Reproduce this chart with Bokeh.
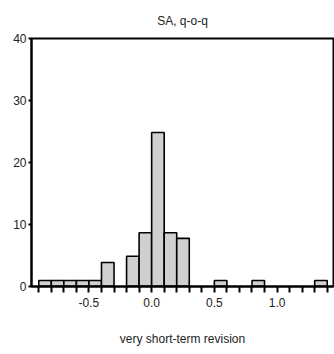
from bokeh.plotting import figure
from bokeh.models import Range1d, FixedTicker, PrintfTickFormatter
from bokeh.embed import file_html
from bokeh.resources import INLINE

# histogram data (percent frequency per 0.1-wide bin)
bin_left = [-0.9, -0.8, -0.7, -0.6, -0.5, -0.4, -0.2, -0.1, 0.0, 0.1, 0.2, 0.5, 0.8, 1.3]
bin_right = [-0.8, -0.7, -0.6, -0.5, -0.4, -0.3, -0.1, 0.0, 0.1, 0.2, 0.3, 0.6, 0.9, 1.4]
freq = [0.9, 0.9, 0.9, 0.9, 0.9, 3.8, 4.8, 8.6, 24.8, 8.6, 7.7, 0.9, 0.9, 0.9]

x_major = [-0.5, 0.0, 0.5, 1.0]
x_minor = [-0.9, -0.8, -0.7, -0.6, -0.4, -0.3, -0.2, -0.1, 0.1, 0.2, 0.3, 0.4,
           0.6, 0.7, 0.8, 0.9, 1.1, 1.2, 1.3, 1.4]
y_major = [0, 10, 20, 30, 40]

FONT = "Liberation Sans"
TXT = "#222222"

p = figure(width=334, height=354, output_backend="svg", toolbar_location=None,
           x_range=Range1d(-0.958, 1.45), y_range=Range1d(-0.08, 40.0),
           min_border_left=31, min_border_right=1, min_border_top=37,
           min_border_bottom=68, title="SA, q-o-q")

p.title.align = "center"
p.title.text_font = FONT
p.title.text_font_size = "12px"
p.title.text_font_style = "normal"
p.title.text_color = TXT
p.title.standoff = 22

p.quad(left=bin_left, right=bin_right, bottom=0, top=freq,
       fill_color="#d0d0d0", line_color="black", line_width=1.6)

p.grid.visible = False
p.background_fill_color = "white"
p.border_fill_color = "white"
p.outline_line_color = "black"
p.outline_line_width = 2

xa = p.xaxis[0]
xa.ticker = FixedTicker(ticks=x_major, minor_ticks=x_minor)
xa.formatter = PrintfTickFormatter(format="%.1f")
xa.axis_line_width = 2
xa.axis_line_color = "black"
xa.major_tick_out = 6
xa.major_tick_in = 0
xa.minor_tick_out = 6
xa.minor_tick_in = 0
xa.major_tick_line_width = 2
xa.minor_tick_line_width = 2
xa.major_label_standoff = 5
xa.major_label_text_font = FONT
xa.major_label_text_font_size = "12px"
xa.major_label_text_color = TXT
xa.axis_label = "very short-term revision"
xa.axis_label_text_font = FONT
xa.axis_label_text_font_size = "12px"
xa.axis_label_text_font_style = "normal"
xa.axis_label_text_color = TXT
xa.axis_label_standoff = 22

ya = p.yaxis[0]
ya.ticker = FixedTicker(ticks=y_major, minor_ticks=[])
ya.axis_line_width = 2
ya.axis_line_color = "black"
ya.major_tick_out = 3
ya.major_tick_in = 0
ya.major_tick_line_width = 2
ya.major_label_standoff = 2
ya.major_label_text_font = FONT
ya.major_label_text_font_size = "12px"
ya.major_label_text_color = TXT

open("out.html", "w").write(file_html(p, INLINE))
